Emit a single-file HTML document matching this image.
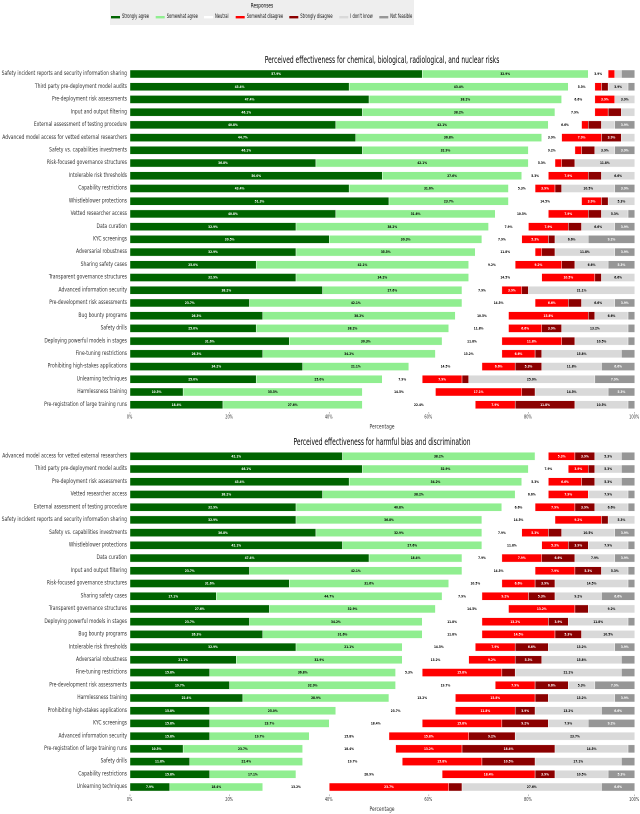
<!DOCTYPE html>
<html lang="en">
<head>
<meta charset="utf-8">
<title>Perceived effectiveness of risk mitigations</title>
<style>
html,body{margin:0;padding:0;background:#fff;}
svg{display:block;font-family:"DejaVu Sans","Liberation Sans",sans-serif;filter:blur(0.25px);}
</style>
</head>
<body>
<svg id="chart" width="640" height="814" viewBox="0 0 640 814" xmlns="http://www.w3.org/2000/svg"></svg>
<script>
// Response counts out of 76 for each row
const responses = ["Strongly agree","Somewhat agree","Neutral","Somewhat disagree","Strongly disagree","I don't know","Not feasible"];
const responseColors = ["#006400","#90ee90","#ffffff","#ff0000","#8b0000","#d9d9d9","#969696"];
const labelColors = ["#fff","#000","#000","#fff","#fff","#000","#fff"];
const tickValues = [0,15,30,45,60,76];
const tickLabels = ["0%","20%","40%","60%","80%","100%"];

const topTitle = "Perceived effectiveness for chemical, biological, radiological, and nuclear risks";
const topCategories = ["Safety incident reports and security information sharing","Third party pre-deployment model audits","Pre-deployment risk assessments","Input and output filtering","External assessment of testing procedure","Advanced model access for vetted external researchers","Safety vs. capabilities investments","Risk-focused governance structures","Intolerable risk thresholds","Capability restrictions","Whistleblower protections","Vetted researcher access","Data curation","KYC screenings","Adversarial robustness","Sharing safety cases","Transparent governance structures","Advanced information security","Pre-development risk assessments","Bug bounty programs","Safety drills","Deploying powerful models in stages","Fine-tuning restrictions","Prohibiting high-stakes applications","Unlearning techniques","Harmlessness training","Pre-registration of large training runs"];
const topStronglyAgree    = [44,33,36,35,31,34,35,28,38,33,39,31,25,30,25,19,25,29,18,20,19,24,20,26,19,8,14];
const topSomewhatAgree    = [25,33,29,29,32,28,25,32,21,24,18,24,29,23,27,32,26,21,32,29,29,23,26,16,19,27,21];
const topNeutral          = [3,4,5,6,5,3,7,4,4,4,11,8,6,6,9,7,11,6,11,8,9,9,10,11,6,11,17];
const topSomewhatDisagree = [1,1,3,2,1,6,1,1,6,3,3,6,6,4,1,7,8,3,5,12,5,9,5,5,6,13,6];
const topStronglyDisagree = [0,1,0,2,2,3,2,2,2,1,1,2,2,1,2,2,1,1,2,1,3,2,1,4,1,2,9];
const topDontKnow         = [1,3,3,2,2,2,3,9,5,8,4,4,5,5,9,5,5,16,5,5,10,8,12,9,19,11,8];
const topNotFeasible      = [2,1,0,0,3,0,3,0,0,3,0,1,3,7,3,4,0,0,3,1,1,1,2,5,6,4,1];

const bottomTitle = "Perceived effectiveness for harmful bias and discrimination";
const bottomCategories = ["Advanced model access for vetted external researchers","Third party pre-deployment model audits","Pre-deployment risk assessments","Vetted researcher access","External assessment of testing procedure","Safety incident reports and security information sharing","Safety vs. capabilities investments","Whistleblower protections","Data curation","Input and output filtering","Risk-focused governance structures","Sharing safety cases","Transparent governance structures","Deploying powerful models in stages","Bug bounty programs","Intolerable risk thresholds","Adversarial robustness","Fine-tuning restrictions","Pre-development risk assessments","Harmlessness training","Prohibiting high-stakes applications","KYC screenings","Advanced information security","Pre-registration of large training runs","Safety drills","Capability restrictions","Unlearning techniques"];
const bottomStronglyAgree    = [32,35,33,29,25,25,28,32,36,18,24,13,21,18,20,25,16,12,15,17,12,12,12,8,9,12,6];
const bottomSomewhatAgree    = [29,25,26,29,31,28,25,21,14,32,24,34,25,26,24,16,25,28,25,22,19,18,15,18,17,13,14];
const bottomNeutral          = [2,6,4,5,5,11,6,9,6,11,8,6,11,9,9,11,10,4,15,10,18,14,12,14,15,22,10];
const bottomSomewhatDisagree = [4,3,5,6,6,7,4,4,6,6,5,7,10,10,11,6,7,12,6,12,9,12,12,10,12,14,18];
const bottomStronglyDisagree = [3,1,2,0,3,1,2,3,5,4,3,4,2,3,4,5,4,2,5,2,3,7,7,14,8,3,2];
const bottomDontKnow         = [4,4,4,6,5,4,8,6,6,4,11,7,7,9,8,10,12,16,4,10,10,6,18,11,13,8,21];
const bottomNotFeasible      = [2,2,2,1,1,0,3,1,3,1,1,5,0,1,0,3,2,2,6,3,5,7,0,1,2,4,5];

const topSeries = [topStronglyAgree,topSomewhatAgree,topNeutral,topSomewhatDisagree,topStronglyDisagree,topDontKnow,topNotFeasible];
const bottomSeries = [bottomStronglyAgree,bottomSomewhatAgree,bottomNeutral,bottomSomewhatDisagree,bottomStronglyDisagree,bottomDontKnow,bottomNotFeasible];

const SVGNS = "http://www.w3.org/2000/svg";
const svg = document.getElementById("chart");
const TOTAL = 76;
const X0 = 130, X1 = 634.7;
const ROW = 12.72, BAR_H = 8;
function x(count){ return X0 + (X1 - X0) * count / TOTAL; }
function kebab(s){ return s.toLowerCase().replace(/[^a-z0-9]+/g,"-").replace(/^-|-$/g,""); }

function addText(parent, str, px, py, size, anchor, sx, fill, weight){
  const t = document.createElementNS(SVGNS,"text");
  t.textContent = str;
  t.setAttribute("transform","translate("+px+" "+py+") scale("+sx+" 1)");
  t.setAttribute("font-size",size);
  t.setAttribute("text-anchor",anchor);
  t.setAttribute("dominant-baseline","central");
  t.setAttribute("fill",fill);
  if(weight) t.setAttribute("font-weight",weight);
  parent.appendChild(t);
  return t;
}

function drawLegend(){
  const g = document.createElementNS(SVGNS,"g");
  
  
  svg.appendChild(g);
  const bg = document.createElementNS(SVGNS,"rect");
  bg.setAttribute("x",110);
  bg.setAttribute("y",0);
  bg.setAttribute("width",304);
  bg.setAttribute("height",25);
  bg.setAttribute("fill","#eeeeee");
  
  
  g.appendChild(bg);
  const title = addText(g,"Responses",262,6.3,6.4,"middle",0.66,"#000");
  
  
  const handleStarts = [111,155.7,204,235.7,289.3,339.3,379.3];
  responses.forEach(function(name,i){
    const h = document.createElementNS(SVGNS,"rect");
    h.setAttribute("x",handleStarts[i]);
    h.setAttribute("y",16);
    h.setAttribute("width",9);
    h.setAttribute("height",2.4);
    h.setAttribute("fill",responseColors[i]);
    
    
    g.appendChild(h);
    const t = addText(g,name,handleStarts[i]+11,17,6.4,"start",0.575,"#111");
    
    
  });
}

function drawPanel(prefix,title,titleY,categories,series,firstY,tickY){
  const g = document.createElementNS(SVGNS,"g");
  
  
  svg.appendChild(g);
  const tt = addText(g,title,382,titleY,9.6,"middle",0.622,"#000");
  
  
  categories.forEach(function(cat,r){
    const y = firstY + r*ROW;
    const lab = addText(g,cat,127,y,6.3,"end",0.71,"#333");
    
    
    let cum = 0;
    series.forEach(function(vals,s){
      const v = vals[r];
      if(v<=0){ return; }
      const rect = document.createElementNS(SVGNS,"rect");
      rect.setAttribute("x",x(cum));
      rect.setAttribute("y",y-BAR_H/2);
      rect.setAttribute("width",x(cum+v)-x(cum));
      rect.setAttribute("height",BAR_H);
      rect.setAttribute("fill",responseColors[s]);
      rect.setAttribute("stroke","#ffffff");
      rect.setAttribute("stroke-width","0.4");
      
      
      g.appendChild(rect);
      if(v>=3){
        const pct = (v/TOTAL*100).toFixed(1)+"%";
        const vl = addText(g,pct,(x(cum)+x(cum+v))/2,y,3.9,"middle",0.72,labelColors[s],"bold");
        
        
      }
      cum += v;
    });
  });
  tickValues.forEach(function(tv,i){
    const m = document.createElementNS(SVGNS,"rect");
    m.setAttribute("x",x(tv)-0.25);
    m.setAttribute("y",tickY);
    m.setAttribute("width",0.5);
    m.setAttribute("height",1.6);
    m.setAttribute("fill","#777");
    
    
    g.appendChild(m);
    const tl = addText(g,tickLabels[i],x(tv)-0.5,tickY+6,4.9,"middle",0.72,"#333");
    
    
  });
  const axisT = addText(g,"Percentage",382,tickY+15.3,6.2,"middle",0.72,"#333");
  
  
}

drawLegend();
drawPanel("top",topTitle,60,topCategories,topSeries,74,412);
drawPanel("bottom",bottomTitle,442,bottomCategories,bottomSeries,456.3,794.5);
</script>
</body>
</html>
